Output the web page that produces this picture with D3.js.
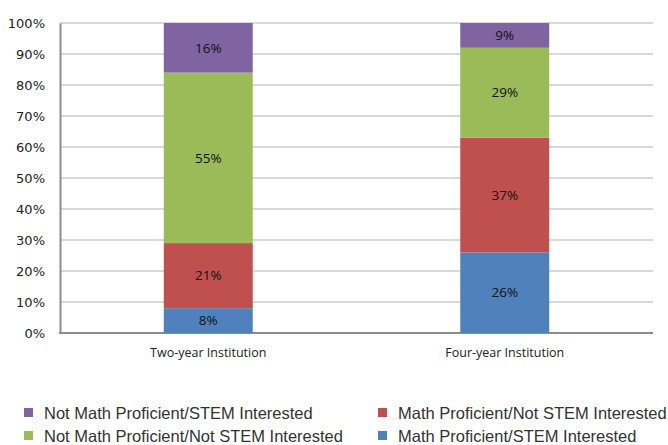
<!DOCTYPE html>
<html>
<head>
<meta charset="utf-8">
<script src="https://cdn.jsdelivr.net/npm/d3@7"></script>
<style>
  body { margin: 0; background: #fff; }
</style>
</head>
<body>
<script>
const categories = ['Two-year Institution', 'Four-year Institution'];
const seriesNames = [
  'Math Proficient/STEM Interested',
  'Math Proficient/Not STEM Interested',
  'Not Math Proficient/Not STEM Interested',
  'Not Math Proficient/STEM Interested'
];
const mathStem = [8, 26];
const mathNotStem = [21, 37];
const notMathNotStem = [55, 29];
const notMathStem = [16, 9];
const yTicks = [0, 10, 20, 30, 40, 50, 60, 70, 80, 90, 100];

const colors = ['#4F81BD', '#C0504D', '#9BBB59', '#8064A2'];

const width = 668, height = 445;
const plot = { left: 60, right: 653, top: 23, bottom: 333 };

const svg = d3.select('body').append('svg')
  .attr('width', width)
  .attr('height', height);

const rows = categories.map((c, i) => ({
  cat: c,
  s0: mathStem[i], s1: mathNotStem[i], s2: notMathNotStem[i], s3: notMathStem[i]
}));
const keys = ['s0', 's1', 's2', 's3'];
const stacked = d3.stack().keys(keys)(rows);

const x = d3.scaleBand()
  .domain(categories)
  .range([plot.left, plot.right])
  .paddingInner(0.7)
  .paddingOuter(0.35);

// 100% axis max; the four-year column sums to 101 and is cut at the top
const y = d3.scaleLinear()
  .domain([0, 100])
  .range([plot.bottom, plot.top])
  .clamp(true);

// gridlines
svg.append('g')
  .selectAll('line')
  .data(yTicks.slice(1))
  .join('line')
  .attr('x1', plot.left).attr('x2', plot.right)
  .attr('y1', d => y(d)).attr('y2', d => y(d))
  .attr('stroke', '#b3b3b3')
  .attr('stroke-width', 1.2);

// y axis
const yAxis = svg.append('g')
  .attr('transform', `translate(${plot.left},0)`)
  .call(d3.axisLeft(y).tickValues(yTicks).tickFormat(d => d + '%').tickSize(0).tickPadding(15));
yAxis.select('.domain').attr('stroke', '#8c8c8c').attr('stroke-width', 2);
yAxis.selectAll('text')
  .attr('font-family', 'DejaVu Sans, Verdana, sans-serif')
  .attr('font-size', 13)
  .attr('fill', '#222');

// bottom baseline
svg.append('line')
  .attr('x1', plot.left - 1).attr('x2', plot.right)
  .attr('y1', y(0)).attr('y2', y(0))
  .attr('stroke', '#8c8c8c')
  .attr('stroke-width', 2);

// bars
const layers = svg.append('g')
  .selectAll('g')
  .data(stacked)
  .join('g')
  .attr('fill', (d, i) => colors[i]);

layers.selectAll('rect')
  .data(d => d)
  .join('rect')
  .attr('x', d => x(d.data.cat))
  .attr('width', x.bandwidth())
  .attr('y', d => y(d[1]))
  .attr('height', d => y(d[0]) - y(d[1]));

// data labels
stacked.forEach((layer, i) => {
  svg.append('g')
    .selectAll('text')
    .data(layer)
    .join('text')
    .attr('x', d => x(d.data.cat) + x.bandwidth() / 2)
    .attr('y', d => (y(d[0]) + y(d[1])) / 2)
    .attr('dy', '0.35em')
    .attr('text-anchor', 'middle')
    .attr('font-family', 'Open Sans, Lato, sans-serif')
    .attr('font-size', 13.5)
    .attr('fill', '#111')
    .text(d => d.data[keys[i]] + '%');
});

// category labels
svg.append('g')
  .selectAll('text')
  .data(categories)
  .join('text')
  .attr('x', d => x(d) + x.bandwidth() / 2)
  .attr('y', 357)
  .attr('text-anchor', 'middle')
  .attr('font-family', 'Open Sans, Lato, sans-serif')
  .attr('font-size', 12.5)
  .attr('fill', '#222')
  .text(d => d);

// legend: order as in picture
const legendItems = [
  { i: 3, x: 24, y: 413 },
  { i: 1, x: 378, y: 413 },
  { i: 2, x: 24, y: 436 },
  { i: 0, x: 378, y: 436 }
];
const lg = svg.append('g')
  .selectAll('g')
  .data(legendItems)
  .join('g')
  .attr('transform', d => `translate(${d.x},${d.y})`);
lg.append('rect')
  .attr('x', 0).attr('y', -5)
  .attr('width', 9).attr('height', 9)
  .attr('fill', d => colors[d.i]);
lg.append('text')
  .attr('x', 20)
  .attr('dy', '0.35em')
  .attr('font-family', 'Liberation Sans, Arial, sans-serif')
  .attr('font-size', 16.5)
  .attr('fill', '#333')
  .text(d => seriesNames[d.i]);
</script>
</body>
</html>
